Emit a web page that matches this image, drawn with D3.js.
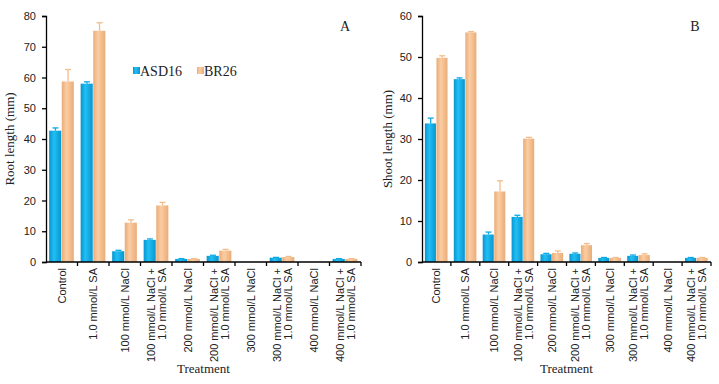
<!DOCTYPE html>
<html lang="en">
<head>
<meta charset="utf-8">
<title>Root and shoot length</title>
<script src="https://cdn.jsdelivr.net/npm/d3@7"></script>
<style>
  body { margin: 0; background: #fff; }
  svg { display: block; }
  .tick text { font-family: "Liberation Sans", Arial, sans-serif; font-size: 11px; fill: #222; }
  .ttl { font-family: "Liberation Serif", "Times New Roman", serif; font-size: 13px; fill: #222; }
  .cat { font-family: "Liberation Sans", Arial, sans-serif; font-size: 11px; fill: #222; }
</style>
</head>
<body>
<svg id="chart" width="719" height="384"></svg>
<script>
// data
var treatments = [
  ["Control"],
  ["1.0 mmol/L SA"],
  ["100 mmol/L NaCl"],
  ["100 mmol/L NaCl +", "1.0 mmol/L SA"],
  ["200 mmol/L NaCl"],
  ["200 mmol/L NaCl +", "1.0 mmol/L SA"],
  ["300 mmol/L NaCl"],
  ["300 mmol/L NaCl +", "1.0 mmol/L SA"],
  ["400 mmol/L NaCl"],
  ["400 mmol/L NaCl +", "1.0 mmol/L SA"]
];
var varieties = ["ASD16", "BR26"];

var rootASD16 = [42.7, 58.0, 3.5, 7.2, 1.0, 2.0, 0, 1.4, 0, 1.0];
var rootASD16Err = [0.9, 0.6, 0.3, 0.3, 0.1, 0.2, 0, 0.1, 0, 0.1];
var rootBR26 = [58.7, 75.2, 12.8, 18.4, 1.0, 3.7, 0, 1.6, 0, 1.0];
var rootBR26Err = [3.9, 2.6, 0.9, 1.0, 0.1, 0.4, 0, 0.2, 0, 0.1];

var shootASD16 = [33.8, 44.6, 6.7, 11.0, 1.9, 2.0, 1.0, 1.5, 0, 1.0];
var shootASD16Err = [1.3, 0.3, 0.6, 0.4, 0.2, 0.2, 0.1, 0.2, 0, 0.1];
var shootBR26 = [49.8, 56.0, 17.2, 30.1, 2.2, 4.1, 1.0, 1.7, 0, 1.0];
var shootBR26Err = [0.5, 0.2, 2.6, 0.3, 0.5, 0.4, 0.1, 0.3, 0, 0.1];

var rootTicks = [0, 10, 20, 30, 40, 50, 60, 70, 80];
var shootTicks = [0, 10, 20, 30, 40, 50, 60];

var svg = d3.select("#chart");

// cylinder-ish shading for bars
var defs = svg.append("defs");
function gradient(id, edge, mid) {
  var g = defs.append("linearGradient").attr("id", id)
    .attr("x1", "0%").attr("x2", "100%").attr("y1", "0%").attr("y2", "0%");
  g.append("stop").attr("offset", "0%").attr("stop-color", edge);
  g.append("stop").attr("offset", "40%").attr("stop-color", mid);
  g.append("stop").attr("offset", "100%").attr("stop-color", edge);
}
gradient("gBlue", "#0796CF", "#22BEF5");
gradient("gOrange", "#E9AC78", "#FBCDA2");

var fills = { ASD16: "url(#gBlue)", BR26: "url(#gOrange)" };
var strokes = { ASD16: "#0FA8E6", BR26: "#F3BC8C" };

function drawPanel(opt) {
  var g = svg.append("g");
  var x = d3.scaleBand().domain(d3.range(treatments.length))
    .range([opt.left, opt.right]);
  var y = d3.scaleLinear().domain([0, opt.max]).range([opt.bottom, opt.top]);
  var inner = d3.scaleBand().domain(varieties)
    .range([0, x.bandwidth()]).paddingOuter(0.25).paddingInner(0);

  // bars
  var rows = [];
  treatments.forEach(function(t, i) {
    rows.push({ i: i, v: "ASD16", val: opt.a[i], err: opt.aErr[i] });
    rows.push({ i: i, v: "BR26", val: opt.b[i], err: opt.bErr[i] });
  });
  var bars = rows.filter(function(d) { return d.val > 0; });

  g.selectAll("rect.bar").data(bars).enter().append("rect")
    .attr("class", "bar")
    .attr("x", function(d) { return x(d.i) + inner(d.v); })
    .attr("width", inner.bandwidth() - 0.5)
    .attr("y", function(d) { return y(d.val); })
    .attr("height", function(d) { return y(0) - y(d.val); })
    .attr("fill", function(d) { return fills[d.v]; });

  // error bars (upper only)
  var eb = g.selectAll("g.err").data(bars.filter(function(d) { return d.err > 0; }))
    .enter().append("g").attr("class", "err")
    .attr("stroke", function(d) { return strokes[d.v]; })
    .attr("stroke-width", 1.3);
  eb.append("line")
    .attr("x1", function(d) { return x(d.i) + inner(d.v) + inner.bandwidth() / 2; })
    .attr("x2", function(d) { return x(d.i) + inner(d.v) + inner.bandwidth() / 2; })
    .attr("y1", function(d) { return y(d.val); })
    .attr("y2", function(d) { return y(d.val + d.err); });
  eb.append("line")
    .attr("x1", function(d) { return x(d.i) + inner(d.v) + inner.bandwidth() / 2 - 3; })
    .attr("x2", function(d) { return x(d.i) + inner(d.v) + inner.bandwidth() / 2 + 3; })
    .attr("y1", function(d) { return y(d.val + d.err); })
    .attr("y2", function(d) { return y(d.val + d.err); });

  // y axis
  var ya = g.append("g").attr("transform", "translate(" + opt.left + ",0)")
    .call(d3.axisLeft(y).tickValues(opt.ticks).tickSize(4).tickPadding(6));
  ya.select(".domain").attr("stroke", "#000").attr("stroke-width", 1.3);
  ya.selectAll(".tick line").attr("stroke", "#000").attr("stroke-width", 1.3);

  // x axis line with ticks between categories
  g.append("line").attr("x1", opt.left).attr("x2", opt.right)
    .attr("y1", y(0)).attr("y2", y(0))
    .attr("stroke", "#000").attr("stroke-width", 1.3);
  g.selectAll("line.xt").data(d3.range(1, treatments.length + 1)).enter().append("line")
    .attr("class", "xt")
    .attr("x1", function(i) { return i < treatments.length ? x(i) : opt.right; })
    .attr("x2", function(i) { return i < treatments.length ? x(i) : opt.right; })
    .attr("y1", y(0)).attr("y2", y(0) + 4)
    .attr("stroke", "#000").attr("stroke-width", 1.3);

  // category labels, rotated
  treatments.forEach(function(lines, i) {
    var cx = x(i) + x.bandwidth() / 2;
    lines.forEach(function(s, k) {
      var off = (k - (lines.length - 1) / 2) * 11;
      g.append("text").attr("class", "cat")
        .attr("text-anchor", "end")
        .attr("transform", "translate(" + (cx + off + 4) + "," + (y(0) + 6) + ") rotate(-90)")
        .text(s);
    });
  });

  // titles
  g.append("text").attr("class", "ttl").attr("text-anchor", "middle")
    .attr("transform", "translate(" + opt.ylabX + "," + ((opt.top + opt.bottom) / 2) + ") rotate(-90)")
    .text(opt.ylab);
  g.append("text").attr("class", "ttl").attr("text-anchor", "middle")
    .attr("x", (opt.left + opt.right) / 2).attr("y", 373)
    .text("Treatment");
  g.append("text").attr("class", "ttl").attr("text-anchor", "middle")
    .style("font-size", "14px")
    .attr("x", opt.right - 16).attr("y", 31)
    .text(opt.letter);
}

drawPanel({
  left: 46, right: 361, top: 16, bottom: 262, max: 80, ticks: rootTicks,
  a: rootASD16, aErr: rootASD16Err, b: rootBR26, bErr: rootBR26Err,
  ylab: "Root length (mm)", ylabX: 14, letter: "A"
});
drawPanel({
  left: 422, right: 711, top: 16, bottom: 262, max: 60, ticks: shootTicks,
  a: shootASD16, aErr: shootASD16Err, b: shootBR26, bErr: shootBR26Err,
  ylab: "Shoot length (mm)", ylabX: 392, letter: "B"
});

// legend (panel A)
var leg = svg.append("g").attr("transform", "translate(133,71)");
varieties.forEach(function(v, k) {
  var lx = k * 64;
  leg.append("rect").attr("x", lx).attr("y", -4).attr("width", 7).attr("height", 7)
    .attr("fill", fills[v]);
  leg.append("text").attr("class", "ttl").attr("x", lx + 7).attr("y", 4.5)
    .style("font-size", "14px").text(v);
});
</script>
</body>
</html>
